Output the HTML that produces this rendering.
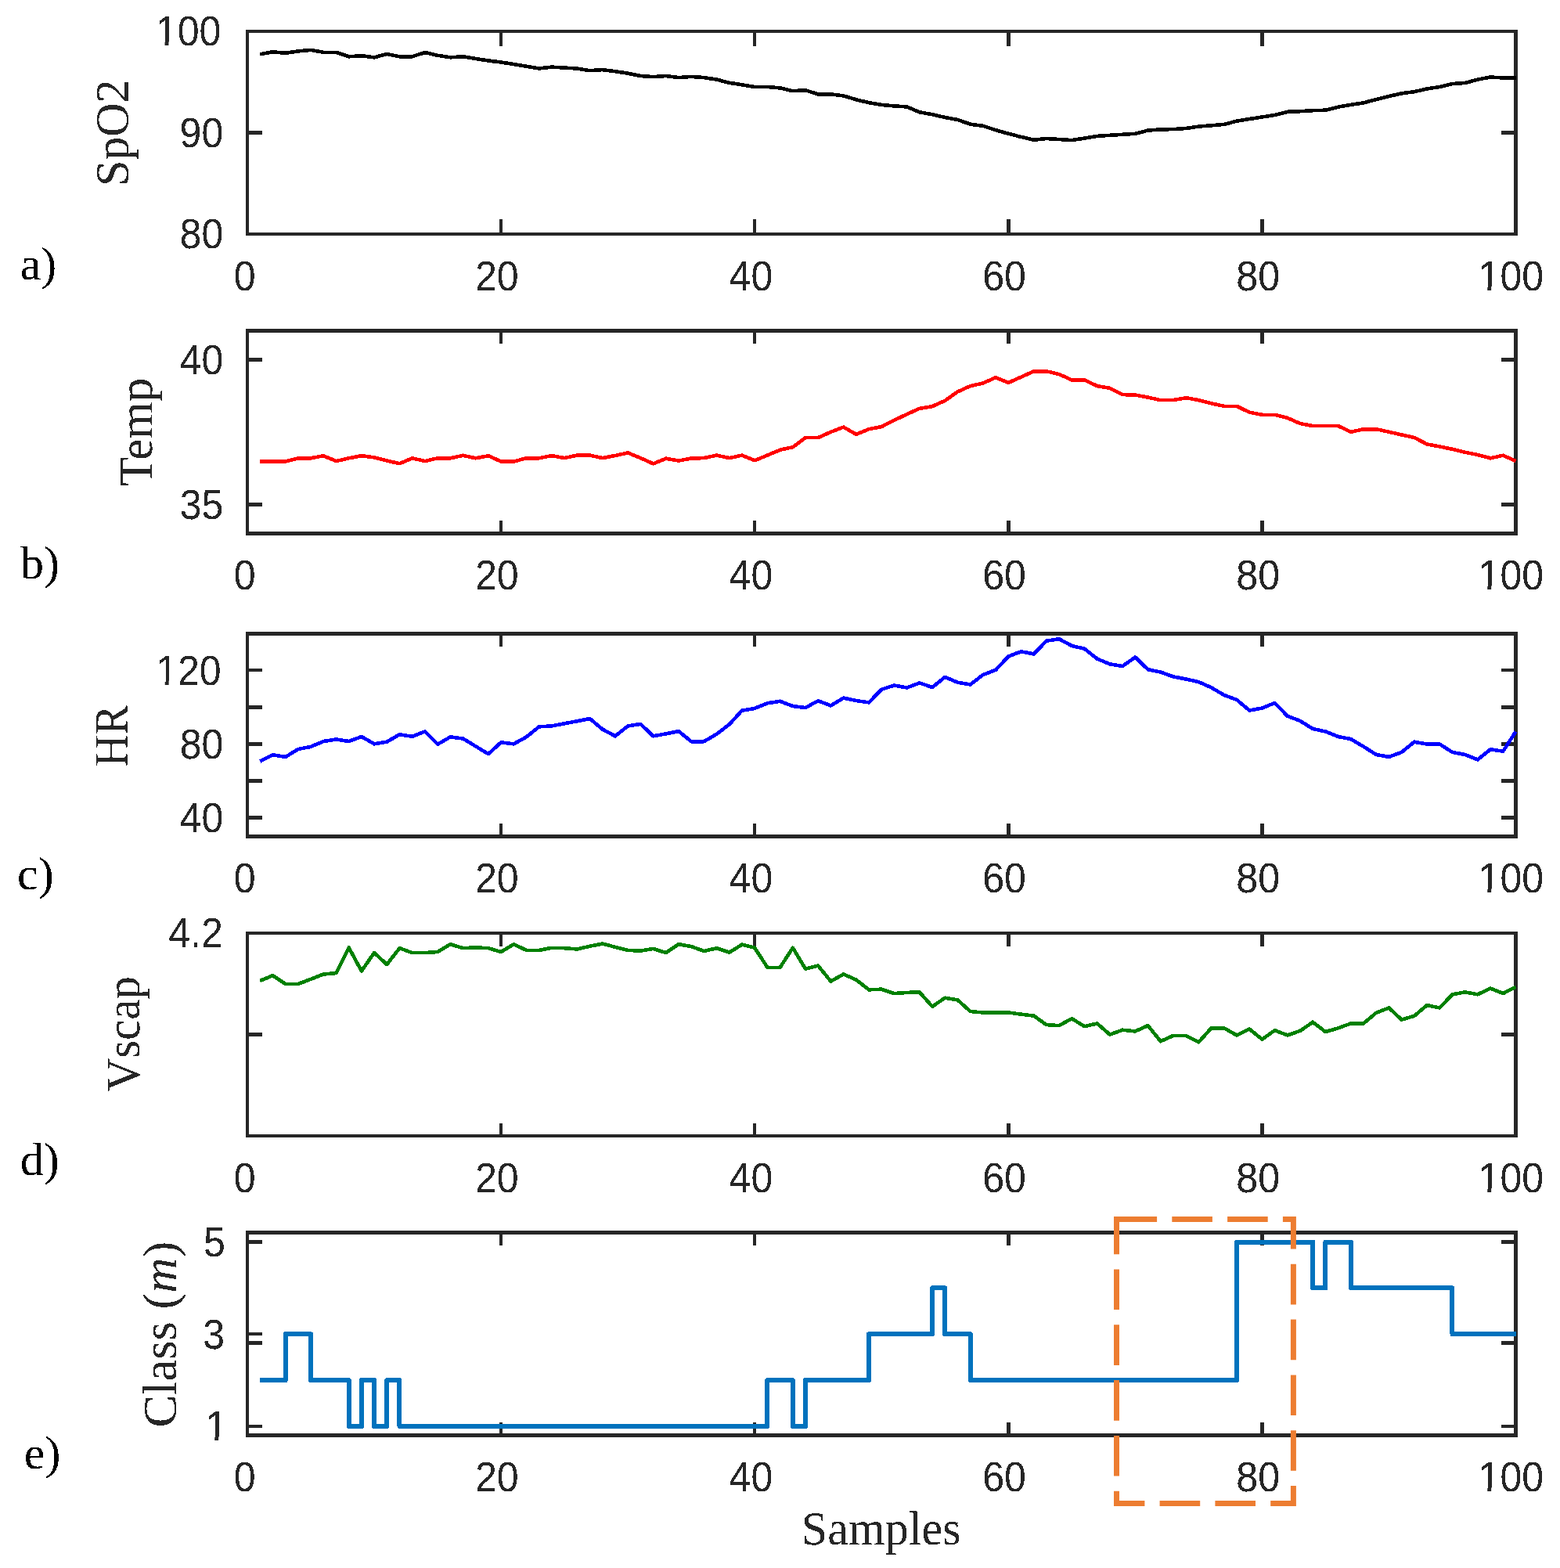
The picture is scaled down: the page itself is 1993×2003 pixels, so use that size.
<!DOCTYPE html>
<html><head><meta charset="utf-8"><title>Figure</title>
<style>html,body{margin:0;padding:0;background:#fff;}svg{display:block;}text{filter:url(#crisp);}</style>
</head><body>
<svg width="1993" height="2003" viewBox="0 0 1993 2003">
<rect x="0" y="0" width="1993" height="2003" fill="#ffffff"/>
<defs><filter id="crisp" x="-10%" y="-10%" width="120%" height="120%"><feComponentTransfer><feFuncA type="discrete" tableValues="0 1"/></feComponentTransfer></filter></defs>
<g id="ax1">
<rect x="316" y="40" width="1620.5" height="259" fill="none" stroke="#262626" stroke-width="4.5" shape-rendering="crispEdges"/>
<path d="M316,299V280M316,40V59M640.1,299V280M640.1,40V59M964.2,299V280M964.2,40V59M1288.3,299V280M1288.3,40V59M1612.4,299V280M1612.4,40V59M1936.5,299V280M1936.5,40V59M316,40H335M1936.5,40H1917.5M316,169.5H335M1936.5,169.5H1917.5M316,299H335M1936.5,299H1917.5" stroke="#262626" stroke-width="4.5" fill="none" shape-rendering="crispEdges"/>
<polyline points="332.2,69.3 348.41,66.3 364.62,67.8 380.82,65.4 397.02,63.9 413.23,66.8 429.44,66.8 445.64,72.3 461.84,71.2 478.05,73.3 494.25,69.1 510.46,72.3 526.66,72.3 542.87,67 559.08,70.8 575.28,73.3 591.48,72.3 607.69,75 623.89,77.5 640.1,79.5 656.3,82 672.51,84.7 688.71,87.5 704.92,85.6 721.12,86.6 737.33,87.5 753.53,90.2 769.74,89.1 785.94,91.2 802.15,93.7 818.36,97 834.56,98.1 850.76,97 866.97,99.1 883.17,97.9 899.38,99.1 915.58,101.6 931.79,105.8 947.99,108.3 964.2,111 980.4,111 996.61,112.4 1012.81,116.2 1029.02,115.2 1045.22,120.4 1061.43,120.4 1077.63,122.4 1093.84,127.3 1110.05,131.2 1126.25,133.9 1142.45,135.4 1158.66,136.4 1174.86,143.3 1191.07,146.2 1207.27,150 1223.48,153 1239.68,158.7 1255.89,160.8 1272.09,166.2 1288.3,170.8 1304.5,174.9 1320.71,178.7 1336.91,177 1353.12,178 1369.32,179.1 1385.53,176.6 1401.73,173.9 1417.94,172.8 1434.14,171.8 1450.35,170.8 1466.55,166.6 1482.76,165.4 1498.96,165.1 1515.17,164 1531.37,161.6 1547.58,160.3 1563.78,158.9 1579.99,154.7 1596.19,152 1612.4,149.5 1628.6,147 1644.81,142.8 1661.01,142.2 1677.22,141.2 1693.42,140.7 1709.63,136.6 1725.83,133.9 1742.04,131.3 1758.24,127.1 1774.45,123 1790.65,119.3 1806.86,117.2 1823.06,113.4 1839.27,111 1855.47,107 1871.68,106 1887.88,101.6 1904.09,98.5 1920.29,99.5 1936.5,99.5" fill="none" stroke="#000000" stroke-width="4.6" stroke-linejoin="round" stroke-linecap="butt" shape-rendering="crispEdges"/>
<text transform="translate(298.82 370.8) scale(0.945 1)" font-family='"Liberation Sans", Arial, Helvetica, sans-serif' font-size="53" fill="#262626">0</text>
<text transform="translate(607 370.8) scale(0.945 1)" font-family='"Liberation Sans", Arial, Helvetica, sans-serif' font-size="53" fill="#262626">20</text>
<text transform="translate(931.57 370.8) scale(0.945 1)" font-family='"Liberation Sans", Arial, Helvetica, sans-serif' font-size="53" fill="#262626">40</text>
<text transform="translate(1255.2 370.8) scale(0.945 1)" font-family='"Liberation Sans", Arial, Helvetica, sans-serif' font-size="53" fill="#262626">60</text>
<text transform="translate(1579.3 370.8) scale(0.945 1)" font-family='"Liberation Sans", Arial, Helvetica, sans-serif' font-size="53" fill="#262626">80</text>
<text transform="translate(1888.53 370.8) scale(0.945 1)" font-family='"Liberation Sans", Arial, Helvetica, sans-serif' font-size="53" fill="#262626">100</text><rect x="1891.03" y="365.9" width="9.2" height="5.8" fill="#fff"/><rect x="1905.13" y="365.9" width="10" height="5.8" fill="#fff"/>
<text transform="translate(198.83 58.3) scale(0.945 1)" font-family='"Liberation Sans", Arial, Helvetica, sans-serif' font-size="53" fill="#262626">100</text><rect x="201.33" y="53.4" width="9.2" height="5.8" fill="#fff"/><rect x="215.43" y="53.4" width="10" height="5.8" fill="#fff"/>
<text transform="translate(229.59 187.8) scale(0.945 1)" font-family='"Liberation Sans", Arial, Helvetica, sans-serif' font-size="53" fill="#262626">90</text>
<text transform="translate(229.59 317.3) scale(0.945 1)" font-family='"Liberation Sans", Arial, Helvetica, sans-serif' font-size="53" fill="#262626">80</text>
<text x="163.7" y="237.93" transform="rotate(-90 163.7 237.93)" font-family='"Liberation Serif", "Times New Roman", serif' font-size="61" fill="#262626" textLength="136.38" lengthAdjust="spacingAndGlyphs">SpO2</text>
<text x="25.7" y="357" font-family='"Liberation Serif", "Times New Roman", serif' font-size="60" fill="#000000">a)</text>
</g>
<g id="ax2">
<rect x="316" y="422.5" width="1620.5" height="259" fill="none" stroke="#262626" stroke-width="4.5" shape-rendering="crispEdges"/>
<path d="M316,681.5V665M316,422.5V439M640.1,681.5V665M640.1,422.5V439M964.2,681.5V665M964.2,422.5V439M1288.3,681.5V665M1288.3,422.5V439M1612.4,681.5V665M1612.4,422.5V439M1936.5,681.5V665M1936.5,422.5V439M316,459.4H335M1936.5,459.4H1917.5M316,644.3H335M1936.5,644.3H1917.5" stroke="#262626" stroke-width="4.5" fill="none" shape-rendering="crispEdges"/>
<polyline points="332.2,589.5 348.41,589.5 364.62,589.5 380.82,585.3 397.02,585.3 413.23,582.2 429.44,589.1 445.64,585.3 461.84,582.2 478.05,584.3 494.25,588.5 510.46,592.2 526.66,585.3 542.87,589.1 559.08,585.3 575.28,585.3 591.48,581.8 607.69,585.3 623.89,582.2 640.1,589.5 656.3,589.5 672.51,585.3 688.71,585.3 704.92,582.1 721.12,585.1 737.33,581.6 753.53,581.6 769.74,585.1 785.94,582 802.15,578.4 818.36,585.1 834.56,592.4 850.76,585.7 866.97,588.6 883.17,585.5 899.38,585.1 915.58,581.6 931.79,585.1 947.99,581.6 964.2,588.2 980.4,581.6 996.61,574.7 1012.81,571.2 1029.02,559.1 1045.22,559.1 1061.43,551.8 1077.63,545.6 1093.84,554.8 1110.05,548.2 1126.25,545.1 1142.45,536.8 1158.66,529.1 1174.86,521.8 1191.07,519.1 1207.27,511.8 1223.48,500.4 1239.68,493.1 1255.89,489.5 1272.09,482.2 1288.3,488.9 1304.5,481.6 1320.71,474.3 1336.91,474.3 1353.12,478.1 1369.32,485.4 1385.53,485.4 1401.73,493.1 1417.94,495.8 1434.14,504.1 1450.35,504.5 1466.55,507.6 1482.76,511.2 1498.96,511.1 1515.17,508.2 1531.37,511.1 1547.58,515.4 1563.78,518.8 1579.99,518.8 1596.19,526.7 1612.4,529.8 1628.6,529.8 1644.81,533.9 1661.01,541 1677.22,544.1 1693.42,544.1 1709.63,544.1 1725.83,551.8 1742.04,548.2 1758.24,548.2 1774.45,551.8 1790.65,555.4 1806.86,559 1823.06,567.4 1839.27,570.5 1855.47,573.8 1871.68,577.7 1887.88,581 1904.09,585.3 1920.29,581.7 1936.5,588.9" fill="none" stroke="#ff0000" stroke-width="4.6" stroke-linejoin="round" stroke-linecap="butt" shape-rendering="crispEdges"/>
<text transform="translate(298.82 753.3) scale(0.945 1)" font-family='"Liberation Sans", Arial, Helvetica, sans-serif' font-size="53" fill="#262626">0</text>
<text transform="translate(607 753.3) scale(0.945 1)" font-family='"Liberation Sans", Arial, Helvetica, sans-serif' font-size="53" fill="#262626">20</text>
<text transform="translate(931.57 753.3) scale(0.945 1)" font-family='"Liberation Sans", Arial, Helvetica, sans-serif' font-size="53" fill="#262626">40</text>
<text transform="translate(1255.2 753.3) scale(0.945 1)" font-family='"Liberation Sans", Arial, Helvetica, sans-serif' font-size="53" fill="#262626">60</text>
<text transform="translate(1579.3 753.3) scale(0.945 1)" font-family='"Liberation Sans", Arial, Helvetica, sans-serif' font-size="53" fill="#262626">80</text>
<text transform="translate(1888.53 753.3) scale(0.945 1)" font-family='"Liberation Sans", Arial, Helvetica, sans-serif' font-size="53" fill="#262626">100</text><rect x="1891.03" y="748.4" width="9.2" height="5.8" fill="#fff"/><rect x="1905.13" y="748.4" width="10" height="5.8" fill="#fff"/>
<text transform="translate(229.69 477.7) scale(0.945 1)" font-family='"Liberation Sans", Arial, Helvetica, sans-serif' font-size="53" fill="#262626">40</text>
<text transform="translate(229.69 662.6) scale(0.945 1)" font-family='"Liberation Sans", Arial, Helvetica, sans-serif' font-size="53" fill="#262626">35</text>
<text x="194.1" y="620.8" transform="rotate(-90 194.1 620.8)" font-family='"Liberation Serif", "Times New Roman", serif' font-size="61" fill="#262626" textLength="138.31" lengthAdjust="spacingAndGlyphs">Temp</text>
<text x="25.9" y="738.7" font-family='"Liberation Serif", "Times New Roman", serif' font-size="60" fill="#000000">b)</text>
</g>
<g id="ax3">
<rect x="316" y="809.5" width="1620.5" height="259" fill="none" stroke="#262626" stroke-width="4.5" shape-rendering="crispEdges"/>
<path d="M316,1068.5V1052M316,809.5V826M640.1,1068.5V1052M640.1,809.5V826M964.2,1068.5V1052M964.2,809.5V826M1288.3,1068.5V1052M1288.3,809.5V826M1612.4,1068.5V1052M1612.4,809.5V826M1936.5,1068.5V1052M1936.5,809.5V826M316,856.2H335M1936.5,856.2H1917.5M316,903.3H335M1936.5,903.3H1917.5M316,950.4H335M1936.5,950.4H1917.5M316,997.4H335M1936.5,997.4H1917.5M316,1044.5H335M1936.5,1044.5H1917.5" stroke="#262626" stroke-width="4.5" fill="none" shape-rendering="crispEdges"/>
<polyline points="332.2,972.6 348.41,964.3 364.62,967 380.82,957 397.02,953.9 413.23,947 429.44,944.5 445.64,947 461.84,941 478.05,950.3 494.25,947.6 510.46,938.3 526.66,940.8 542.87,934.5 559.08,950.8 575.28,941.4 591.48,943.5 607.69,953.3 623.89,963.2 640.1,948.3 656.3,950.3 672.51,941.4 688.71,928.3 704.92,927.4 721.12,924.3 737.33,921.2 753.53,918 769.74,931.6 785.94,940.3 802.15,927.4 818.36,924.9 834.56,940.3 850.76,937.4 866.97,934.1 883.17,947.2 899.38,947.2 915.58,937.8 931.79,925.3 947.99,907.6 964.2,904.9 980.4,898.3 996.61,895.8 1012.81,902 1029.02,904.1 1045.22,895.2 1061.43,901.4 1077.63,891.6 1093.84,895 1110.05,897.4 1126.25,880.7 1142.45,875.5 1158.66,878.5 1174.86,872.4 1191.07,878 1207.27,864.9 1223.48,871.8 1239.68,874.5 1255.89,862 1272.09,855.8 1288.3,838.5 1304.5,832.3 1320.71,835.4 1336.91,818.7 1353.12,816.2 1369.32,825 1385.53,828.7 1401.73,841.6 1417.94,848.3 1434.14,851 1450.35,839.5 1466.55,855.2 1482.76,858.6 1498.96,864.4 1515.17,867.5 1531.37,871.1 1547.58,878.3 1563.78,887.9 1579.99,893.9 1596.19,907.5 1612.4,904.6 1628.6,897.9 1644.81,914.7 1661.01,920.9 1677.22,931 1693.42,934.5 1709.63,941 1725.83,944.1 1742.04,953.7 1758.24,964 1774.45,966.9 1790.65,960.9 1806.86,947.7 1823.06,950.6 1839.27,950.6 1855.47,960.9 1871.68,964 1887.88,970.4 1904.09,957.3 1920.29,959.7 1936.5,934.5" fill="none" stroke="#0000ff" stroke-width="4.6" stroke-linejoin="round" stroke-linecap="butt" shape-rendering="crispEdges"/>
<text transform="translate(298.82 1140.3) scale(0.945 1)" font-family='"Liberation Sans", Arial, Helvetica, sans-serif' font-size="53" fill="#262626">0</text>
<text transform="translate(607 1140.3) scale(0.945 1)" font-family='"Liberation Sans", Arial, Helvetica, sans-serif' font-size="53" fill="#262626">20</text>
<text transform="translate(931.57 1140.3) scale(0.945 1)" font-family='"Liberation Sans", Arial, Helvetica, sans-serif' font-size="53" fill="#262626">40</text>
<text transform="translate(1255.2 1140.3) scale(0.945 1)" font-family='"Liberation Sans", Arial, Helvetica, sans-serif' font-size="53" fill="#262626">60</text>
<text transform="translate(1579.3 1140.3) scale(0.945 1)" font-family='"Liberation Sans", Arial, Helvetica, sans-serif' font-size="53" fill="#262626">80</text>
<text transform="translate(1888.53 1140.3) scale(0.945 1)" font-family='"Liberation Sans", Arial, Helvetica, sans-serif' font-size="53" fill="#262626">100</text><rect x="1891.03" y="1135.4" width="9.2" height="5.8" fill="#fff"/><rect x="1905.13" y="1135.4" width="10" height="5.8" fill="#fff"/>
<text transform="translate(199.03 874.5) scale(0.945 1)" font-family='"Liberation Sans", Arial, Helvetica, sans-serif' font-size="53" fill="#262626">120</text><rect x="201.53" y="869.6" width="9.2" height="5.8" fill="#fff"/><rect x="215.63" y="869.6" width="10" height="5.8" fill="#fff"/>
<text transform="translate(229.69 968.7) scale(0.945 1)" font-family='"Liberation Sans", Arial, Helvetica, sans-serif' font-size="53" fill="#262626">80</text>
<text transform="translate(229.69 1062.8) scale(0.945 1)" font-family='"Liberation Sans", Arial, Helvetica, sans-serif' font-size="53" fill="#262626">40</text>
<text x="163" y="979.43" transform="rotate(-90 163 979.43)" font-family='"Liberation Serif", "Times New Roman", serif' font-size="61" fill="#262626" textLength="78.64" lengthAdjust="spacingAndGlyphs">HR</text>
<text x="22" y="1135.9" font-family='"Liberation Serif", "Times New Roman", serif' font-size="60" fill="#000000">c)</text>
</g>
<g id="ax4">
<rect x="316" y="1192" width="1620.5" height="259" fill="none" stroke="#262626" stroke-width="4.5" shape-rendering="crispEdges"/>
<path d="M316,1451V1434.5M316,1192V1208.5M640.1,1451V1434.5M640.1,1192V1208.5M964.2,1451V1434.5M964.2,1192V1208.5M1288.3,1451V1434.5M1288.3,1192V1208.5M1612.4,1451V1434.5M1612.4,1192V1208.5M1936.5,1451V1434.5M1936.5,1192V1208.5M316,1192H335M1936.5,1192H1917.5M316,1321.5H335M1936.5,1321.5H1917.5" stroke="#262626" stroke-width="4.5" fill="none" shape-rendering="crispEdges"/>
<polyline points="332.2,1252.9 348.41,1246.2 364.62,1257 380.82,1257 397.02,1250.8 413.23,1244.5 429.44,1243.1 445.64,1210.4 461.84,1240.4 478.05,1217.1 494.25,1232 510.46,1211.2 526.66,1217.1 542.87,1217.1 559.08,1216 575.28,1206.2 591.48,1211.2 607.69,1210.4 623.89,1211.2 640.1,1216 656.3,1206.2 672.51,1213.9 688.71,1213.9 704.92,1210.8 721.12,1211.2 737.33,1212.5 753.53,1208.7 769.74,1205.6 785.94,1209.8 802.15,1213.9 818.36,1214.6 834.56,1211.9 850.76,1217.1 866.97,1206.2 883.17,1209.1 899.38,1215 915.58,1211.2 931.79,1216.6 947.99,1206.6 964.2,1210.8 980.4,1235.8 996.61,1235.8 1012.81,1210.8 1029.02,1237.5 1045.22,1233.7 1061.43,1253.5 1077.63,1244.5 1093.84,1251.6 1110.05,1264.3 1126.25,1263.7 1142.45,1269.1 1158.66,1267.9 1174.86,1267.5 1191.07,1285.8 1207.27,1274.7 1223.48,1277.5 1239.68,1292 1255.89,1293.5 1272.09,1293.5 1288.3,1293.5 1304.5,1295.6 1320.71,1297.6 1336.91,1309.1 1353.12,1310.1 1369.32,1301.2 1385.53,1311.2 1401.73,1307.4 1417.94,1321.6 1434.14,1315.7 1450.35,1317.4 1466.55,1310.1 1482.76,1330.2 1498.96,1322.9 1515.17,1322.9 1531.37,1331.3 1547.58,1313.3 1563.78,1313.3 1579.99,1322.4 1596.19,1314.5 1612.4,1327.7 1628.6,1316.2 1644.81,1322.4 1661.01,1316.9 1677.22,1305.7 1693.42,1318.1 1709.63,1313.3 1725.83,1307.4 1742.04,1307.4 1758.24,1293.7 1774.45,1287.5 1790.65,1302.6 1806.86,1297.8 1823.06,1284.1 1839.27,1287.5 1855.47,1270.3 1871.68,1267.4 1887.88,1270.3 1904.09,1262.6 1920.29,1269.1 1936.5,1260.7" fill="none" stroke="#008000" stroke-width="4.6" stroke-linejoin="round" stroke-linecap="butt" shape-rendering="crispEdges"/>
<text transform="translate(298.82 1522.8) scale(0.945 1)" font-family='"Liberation Sans", Arial, Helvetica, sans-serif' font-size="53" fill="#262626">0</text>
<text transform="translate(607 1522.8) scale(0.945 1)" font-family='"Liberation Sans", Arial, Helvetica, sans-serif' font-size="53" fill="#262626">20</text>
<text transform="translate(931.57 1522.8) scale(0.945 1)" font-family='"Liberation Sans", Arial, Helvetica, sans-serif' font-size="53" fill="#262626">40</text>
<text transform="translate(1255.2 1522.8) scale(0.945 1)" font-family='"Liberation Sans", Arial, Helvetica, sans-serif' font-size="53" fill="#262626">60</text>
<text transform="translate(1579.3 1522.8) scale(0.945 1)" font-family='"Liberation Sans", Arial, Helvetica, sans-serif' font-size="53" fill="#262626">80</text>
<text transform="translate(1888.53 1522.8) scale(0.945 1)" font-family='"Liberation Sans", Arial, Helvetica, sans-serif' font-size="53" fill="#262626">100</text><rect x="1891.03" y="1517.9" width="9.2" height="5.8" fill="#fff"/><rect x="1905.13" y="1517.9" width="10" height="5.8" fill="#fff"/>
<text transform="translate(215.21 1210.3) scale(0.945 1)" font-family='"Liberation Sans", Arial, Helvetica, sans-serif' font-size="53" fill="#262626">4.2</text>
<text x="178.4" y="1394.4" transform="rotate(-90 178.4 1394.4)" font-family='"Liberation Serif", "Times New Roman", serif' font-size="61" fill="#262626" textLength="147.45" lengthAdjust="spacingAndGlyphs">Vscap</text>
<text x="25.8" y="1500.9" font-family='"Liberation Serif", "Times New Roman", serif' font-size="60" fill="#000000">d)</text>
</g>
<g id="ax5">
<rect x="316" y="1574.5" width="1620.5" height="259" fill="none" stroke="#262626" stroke-width="4.5" shape-rendering="crispEdges"/>
<path d="M316,1833.5V1817M316,1574.5V1591M640.1,1833.5V1817M640.1,1574.5V1591M964.2,1833.5V1817M964.2,1574.5V1591M1288.3,1833.5V1817M1288.3,1574.5V1591M1612.4,1833.5V1817M1612.4,1574.5V1591M1936.5,1833.5V1817M1936.5,1574.5V1591M316,1586.5H335M1936.5,1586.5H1917.5M316,1704.2H335M1936.5,1704.2H1917.5M316,1715.7H335M1936.5,1715.7H1917.5M316,1822H335M1936.5,1822H1917.5" stroke="#262626" stroke-width="4.5" fill="none" shape-rendering="crispEdges"/>
<path d="M332.2,1763.12 H348.41 V1763.12 H364.62 V1704.25 H380.82 V1704.25 H397.02 V1763.12 H413.23 V1763.12 H429.44 V1763.12 H445.64 V1822 H461.84 V1763.12 H478.05 V1822 H494.25 V1763.12 H510.46 V1822 H526.66 V1822 H542.87 V1822 H559.08 V1822 H575.28 V1822 H591.48 V1822 H607.69 V1822 H623.89 V1822 H640.1 V1822 H656.3 V1822 H672.51 V1822 H688.71 V1822 H704.92 V1822 H721.12 V1822 H737.33 V1822 H753.53 V1822 H769.74 V1822 H785.94 V1822 H802.15 V1822 H818.36 V1822 H834.56 V1822 H850.76 V1822 H866.97 V1822 H883.17 V1822 H899.38 V1822 H915.58 V1822 H931.79 V1822 H947.99 V1822 H964.2 V1822 H980.4 V1763.12 H996.61 V1763.12 H1012.81 V1822 H1029.02 V1763.12 H1045.22 V1763.12 H1061.43 V1763.12 H1077.63 V1763.12 H1093.84 V1763.12 H1110.05 V1704.25 H1126.25 V1704.25 H1142.45 V1704.25 H1158.66 V1704.25 H1174.86 V1704.25 H1191.07 V1645.38 H1207.27 V1704.25 H1223.48 V1704.25 H1239.68 V1763.12 H1255.89 V1763.12 H1272.09 V1763.12 H1288.3 V1763.12 H1304.5 V1763.12 H1320.71 V1763.12 H1336.91 V1763.12 H1353.12 V1763.12 H1369.32 V1763.12 H1385.53 V1763.12 H1401.73 V1763.12 H1417.94 V1763.12 H1434.14 V1763.12 H1450.35 V1763.12 H1466.55 V1763.12 H1482.76 V1763.12 H1498.96 V1763.12 H1515.17 V1763.12 H1531.37 V1763.12 H1547.58 V1763.12 H1563.78 V1763.12 H1579.99 V1586.5 H1596.19 V1586.5 H1612.4 V1586.5 H1628.6 V1586.5 H1644.81 V1586.5 H1661.01 V1586.5 H1677.22 V1645.38 H1693.42 V1586.5 H1709.63 V1586.5 H1725.83 V1645.38 H1742.04 V1645.38 H1758.24 V1645.38 H1774.45 V1645.38 H1790.65 V1645.38 H1806.86 V1645.38 H1823.06 V1645.38 H1839.27 V1645.38 H1855.47 V1704.25 H1871.68 V1704.25 H1887.88 V1704.25 H1904.09 V1704.25 H1920.29 V1704.25 H1936.5 V1704.25" fill="none" stroke="#0072bd" stroke-width="6" stroke-linejoin="round" stroke-linecap="butt" shape-rendering="crispEdges"/>
<text transform="translate(298.82 1905.3) scale(0.945 1)" font-family='"Liberation Sans", Arial, Helvetica, sans-serif' font-size="53" fill="#262626">0</text>
<text transform="translate(607 1905.3) scale(0.945 1)" font-family='"Liberation Sans", Arial, Helvetica, sans-serif' font-size="53" fill="#262626">20</text>
<text transform="translate(931.57 1905.3) scale(0.945 1)" font-family='"Liberation Sans", Arial, Helvetica, sans-serif' font-size="53" fill="#262626">40</text>
<text transform="translate(1255.2 1905.3) scale(0.945 1)" font-family='"Liberation Sans", Arial, Helvetica, sans-serif' font-size="53" fill="#262626">60</text>
<text transform="translate(1579.3 1905.3) scale(0.945 1)" font-family='"Liberation Sans", Arial, Helvetica, sans-serif' font-size="53" fill="#262626">80</text>
<text transform="translate(1888.53 1905.3) scale(0.945 1)" font-family='"Liberation Sans", Arial, Helvetica, sans-serif' font-size="53" fill="#262626">100</text><rect x="1891.03" y="1900.4" width="9.2" height="5.8" fill="#fff"/><rect x="1905.13" y="1900.4" width="10" height="5.8" fill="#fff"/>
<text transform="translate(260.04 1604.8) scale(0.945 1)" font-family='"Liberation Sans", Arial, Helvetica, sans-serif' font-size="53" fill="#262626">5</text>
<text transform="translate(259.24 1722.5) scale(0.945 1)" font-family='"Liberation Sans", Arial, Helvetica, sans-serif' font-size="53" fill="#262626">3</text>
<text transform="translate(262.5 1840.3) scale(0.945 1)" font-family='"Liberation Sans", Arial, Helvetica, sans-serif' font-size="53" fill="#262626">1</text><rect x="265" y="1835.4" width="9.2" height="5.8" fill="#fff"/><rect x="279.1" y="1835.4" width="10" height="5.8" fill="#fff"/>
<text x="224.4" y="1823.6" transform="rotate(-90 224.4 1823.6)" font-family='"Liberation Serif", "Times New Roman", serif' font-size="61" fill="#262626" textLength="237.92" lengthAdjust="spacingAndGlyphs">Class (<tspan font-style="italic">m</tspan>)</text>
<text x="30.8" y="1875.9" font-family='"Liberation Serif", "Times New Roman", serif' font-size="60" fill="#000000">e)</text>
</g>
<text x="1023.76" y="1973" font-family='"Liberation Serif", "Times New Roman", serif' font-size="61" fill="#262626" textLength="203.86" lengthAdjust="spacingAndGlyphs">Samples</text>
<path d="M1426.5,1557.5 H1652.4 V1920.4 H1426.5 Z" fill="none" stroke="#ed7d31" stroke-width="7" stroke-dasharray="51.6 19.2" stroke-linejoin="miter"/>
</svg>
</body></html>
